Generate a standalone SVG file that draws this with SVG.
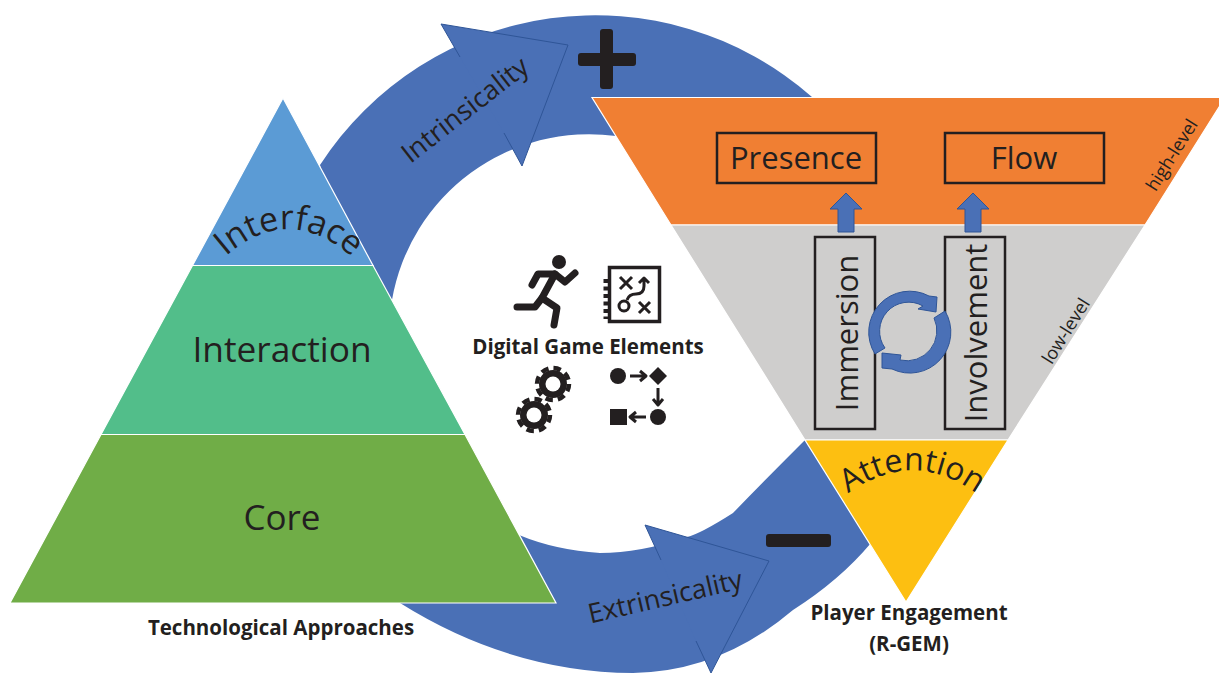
<svg xmlns="http://www.w3.org/2000/svg" xmlns:xlink="http://www.w3.org/1999/xlink" width="1219" height="673" viewBox="0 0 1219 673">
<style>
text{font-family:"Open Sans","Noto Sans","DejaVu Sans",sans-serif;fill:#231f20;text-anchor:middle}
.b{font-weight:700;font-size:20.500px}
.band{stroke:#fff;stroke-width:1.2}
.box{fill:none;stroke:#231f20;stroke-width:2.5}
.blue{fill:#4a70b6}
.head{fill:#4a70b6;stroke:#2f5597;stroke-width:1}
.ic{fill:none;stroke:#231f20;stroke-width:7;stroke-linecap:round;stroke-linejoin:round}
.thin{fill:none;stroke:#231f20;stroke-width:3;stroke-linejoin:round}
.k{fill:#231f20}
</style>
<defs>
<path id="interfaceCurve" d="M226 256 Q288 202 352 257"/>
<path id="attentionCurve" d="M849 493 Q912 448 976 493"/>
<g id="gear">
<circle r="14" class="k"/>
<circle r="16" fill="none" stroke="#231f20" stroke-width="4.500" stroke-dasharray="7.500 5.066"/>
<circle r="7.500" fill="#fff"/>
</g>
</defs>
<rect width="1219" height="673" fill="#fff"/>
<g id="connectors">
<path class="blue" d="M320 165 A328 328 0 0 1 812 97 L650 180 L616 136 A200 200 0 0 0 392 300 L350 300 Z"/>
<path class="blue" d="M441 24 L568 45 L522 166 L504 133 L460 57 Z"/>
<path class="blue" d="M400 603 Q510 672 633 673 Q720 672 793 610 Q840 580 871 543 L840 470 L806 439 Q770 475 733 513 Q700 534 687 537 Q640 553 600 553 Q555 550 519 535 L480 570 Z"/>
<path class="blue" d="M645 525 L769 561 L711 673 L696 641 L661 560 Z"/>
<path fill="none" stroke="#2f5597" d="M460 57 L441 24 L568 45 L522 166 L504 133"/>
<path fill="none" stroke="#2f5597" d="M661 560 L645 525 L769 561 L711 673 L696 641"/>
</g>
<g id="label-intrinsicality"><text x="465" y="119" font-size="27" transform="rotate(-38 465 110)">Intrinsicality</text></g>
<g id="label-extrinsicality"><text x="665" y="606" font-size="27" transform="rotate(-13 665 596)">Extrinsicality</text></g>
<g id="plus"><rect x="578" y="53" width="58" height="13" rx="3" class="k"/><rect x="600" y="29" width="13" height="60" rx="3" class="k"/></g>
<g id="minus"><rect x="766" y="534" width="65" height="13" rx="3" class="k"/></g>
<g id="node-interface"><path class="band" fill="#5b9bd5" d="M283 98 L373 265.500 L192.500 265.500 Z"/><text font-size="34"><textPath xlink:href="#interfaceCurve" href="#interfaceCurve" startOffset="50%">Interface</textPath></text></g>
<g id="node-interaction"><path class="band" fill="#52be8a" d="M192.500 265.500 L373 265.500 L465 434.500 L101 434.500 Z"/><text x="282" y="362" font-size="35.300">Interaction</text></g>
<g id="node-core"><path class="band" fill="#70ad47" d="M101 434.500 L465 434.500 L556 603 L10 603 Z"/><text x="282" y="530" font-size="35">Core</text></g>
<g id="label-technological"><text class="b" x="281" y="635">Technological Approaches</text></g>
<g id="node-high-level"><path class="band" fill="#f07f33" d="M592 97.500 L1225 97.500 L1145 225 L671 225 Z"/><text x="1172" y="161" font-size="18" transform="rotate(-58 1172 155)">high-level</text></g>
<g id="node-low-level"><path class="band" fill="#cfcecd" d="M671 225 L1145 225 L1008 440 L805 440 Z"/><text x="1066" y="337" font-size="18" transform="rotate(-58 1066 331)">low-level</text></g>
<g id="node-attention"><path class="band" fill="#fdbf11" d="M805 440 L1008 440 L906 602 Z"/><text font-size="32"><textPath xlink:href="#attentionCurve" href="#attentionCurve" startOffset="50%">Attention</textPath></text></g>
<g id="label-player"><text class="b" x="909" y="620">Player Engagement</text><text class="b" x="909" y="651">(R-GEM)</text></g>
<g id="node-presence"><rect class="box" x="717" y="133" width="159" height="50"/><text x="796" y="169" font-size="31">Presence</text></g>
<g id="node-flow"><rect class="box" x="945" y="133" width="159" height="50"/><text x="1024" y="169" font-size="31">Flow</text></g>
<g id="node-immersion"><rect class="box" x="815" y="237" width="60" height="192"/><text font-size="31" transform="translate(858 333) rotate(-90)">Immersion</text></g>
<g id="node-involvement"><rect class="box" x="945" y="237" width="60" height="192"/><text font-size="31" transform="translate(987 333) rotate(-90)">Involvement</text></g>
<g id="arrows-up">
<path class="head" d="M846 193 L862 209 L854 209 L854 232 L838 232 L838 209 L830 209 Z"/>
<path class="head" d="M973 193 L989 209 L981 209 L981 232 L965 232 L965 209 L957 209 Z"/>
</g>
<g id="cycle">
<path class="head" d="M875 354 A41 41 0 0 1 929 296 L937 297 L936 312 L918 309 L923 306 A29 29 0 0 0 885 348 Z"/>
<path class="head" d="M945 311 A41 41 0 0 1 892 369 L882 368 L882 353 L901 355 L900 360 A30 30 0 0 0 934 318 Z"/>
</g>
<g id="label-elements"><text class="b" x="588" y="354">Digital Game Elements</text></g>
<g id="icon-runner">
<circle cx="559" cy="262" r="7" class="k"/>
<path class="ic" d="M532 285 L538 274 L555 274 L565 282 L575 273"/>
<path class="ic" d="M555 274 L542 298 L557 308 L554 325"/>
<path class="ic" d="M542 298 L535 307 L517 307"/>
</g>
<g id="icon-plan">
<rect x="609.500" y="267.500" width="50" height="54" fill="#fff" stroke="#231f20" stroke-width="3.500"/>
<path stroke="#231f20" stroke-width="5" stroke-dasharray="4 3.500" d="M606 279 V319" fill="none"/>
<path class="thin" d="M620 277 L632 289 M632 277 L620 289 M639 313 L650 302 M639 302 L650 313"/>
<circle class="thin" cx="624" cy="306" r="5"/>
<path class="thin" d="M627 300 Q629 294 636 294 Q644 294 644 286 V279 M639 283 L644 278 L649 283"/>
</g>
<g id="icon-gears">
<use href="#gear" xlink:href="#gear" x="553" y="384"/>
<use href="#gear" xlink:href="#gear" x="534" y="415"/>
</g>
<g id="icon-flow">
<circle cx="618" cy="376" r="8" class="k"/>
<path class="thin" d="M630 376 H646 M640 371 L646 376 L640 381"/>
<path class="k" d="M658 367 L667 376 L658 385 L649 376 Z"/>
<path class="thin" d="M658 388 V405 M653 399 L658 405 L663 399"/>
<circle cx="658" cy="417" r="8" class="k"/>
<path class="thin" d="M646 417 H630 M636 412 L630 417 L636 422"/>
<rect x="610" y="409" width="17" height="16" class="k"/>
</g>
</svg>
